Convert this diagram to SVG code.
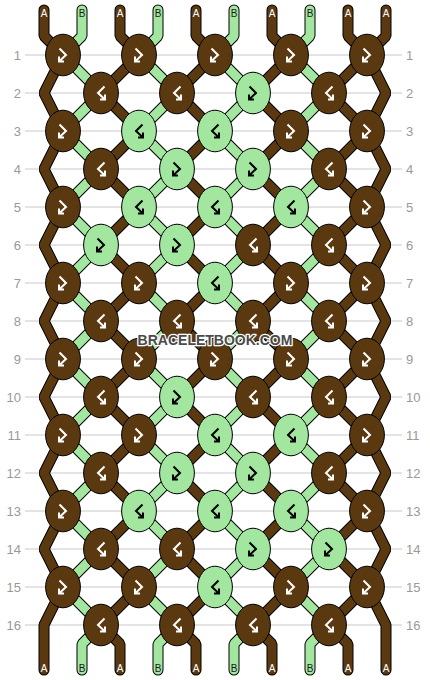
<svg xmlns="http://www.w3.org/2000/svg" xmlns:xlink="http://www.w3.org/1999/xlink" width="430" height="680" viewBox="0 0 430 680">
<style>
.grid line{stroke:#c8c8c8;stroke-width:1}
.num{font-family:"Liberation Sans",Arial,sans-serif;font-size:13px;fill:#999}
.l{text-anchor:end}
.r{text-anchor:start}
.so{fill:none;stroke:#000;stroke-width:11;stroke-linejoin:bevel;stroke-linecap:round}
.sf{fill:none;stroke-width:9;stroke-linejoin:bevel;stroke-linecap:round}
.cA{stroke:#5a3911}
.cB{stroke:#a2e6a0}
.k ellipse{stroke:#000;stroke-width:1}
.a{fill:#5a3911}
.b{fill:#a2e6a0}
.gw{fill:none;stroke:#fff;stroke-width:2}
.gk{fill:none;stroke:#000;stroke-width:2}
.sl{font-family:"Liberation Sans",Arial,sans-serif;font-size:10px;text-anchor:middle}
.sa{fill:#fff}
.sb{fill:#1a1a1a}
.wm{font-family:"Liberation Sans",Arial,sans-serif;font-size:14px;font-weight:bold;fill:#4a4a4a;stroke:#fff;stroke-width:2.5;paint-order:stroke;text-anchor:middle;stroke-linejoin:round}
</style>
<defs>
<path id="fb" d="M-3.5,-6.5 L3,0 L-4,6.5 M-4,1.5 V6.5 H1"/>
<polyline id="s1" points="44,10 44,36 63,55 44,93 63,131 44,169 63,207 44,245 63,283 44,321 63,359 44,397 63,435 44,473 63,511 44,549 63,587 44,625 44,670"/>
<polyline id="s2" points="82,10 82,36 63,55 101,93 63,131 101,169 63,207 101,245 63,283 101,321 63,359 101,397 63,435 101,473 63,511 101,549 63,587 101,625 82,644 82,670"/>
<polyline id="s3" points="120,10 120,36 139,55 101,93 139,131 101,169 139,207 101,245 139,283 101,321 139,359 101,397 139,435 101,473 139,511 101,549 139,587 101,625 120,644 120,670"/>
<polyline id="s4" points="158,10 158,36 139,55 177,93 139,131 177,169 139,207 177,245 139,283 177,321 139,359 177,397 139,435 177,473 139,511 177,549 139,587 177,625 158,644 158,670"/>
<polyline id="s5" points="196,10 196,36 215,55 177,93 215,131 177,169 215,207 177,245 215,283 177,321 215,359 177,397 215,435 177,473 215,511 177,549 215,587 177,625 196,644 196,670"/>
<polyline id="s6" points="234,10 234,36 215,55 253,93 215,131 253,169 215,207 253,245 215,283 253,321 215,359 253,397 215,435 253,473 215,511 253,549 215,587 253,625 234,644 234,670"/>
<polyline id="s7" points="272,10 272,36 291,55 253,93 291,131 253,169 291,207 253,245 291,283 253,321 291,359 253,397 291,435 253,473 291,511 253,549 291,587 253,625 272,644 272,670"/>
<polyline id="s8" points="310,10 310,36 291,55 329,93 291,131 329,169 291,207 329,245 291,283 329,321 291,359 329,397 291,435 329,473 291,511 329,549 291,587 329,625 310,644 310,670"/>
<polyline id="s9" points="348,10 348,36 367,55 329,93 367,131 329,169 367,207 329,245 367,283 329,321 367,359 329,397 367,435 329,473 367,511 329,549 367,587 329,625 348,644 348,670"/>
<polyline id="s10" points="386,10 386,36 367,55 386,93 367,131 386,169 367,207 386,245 367,283 386,321 367,359 386,397 367,435 386,473 367,511 386,549 367,587 386,625 386,670"/>
</defs>
<rect width="430" height="680" fill="#fff"/>
<g class="grid">
<line x1="25" y1="55" x2="402" y2="55"/><line x1="25" y1="93" x2="402" y2="93"/><line x1="25" y1="131" x2="402" y2="131"/><line x1="25" y1="169" x2="402" y2="169"/>
<line x1="25" y1="207" x2="402" y2="207"/><line x1="25" y1="245" x2="402" y2="245"/><line x1="25" y1="283" x2="402" y2="283"/><line x1="25" y1="321" x2="402" y2="321"/>
<line x1="25" y1="359" x2="402" y2="359"/><line x1="25" y1="397" x2="402" y2="397"/><line x1="25" y1="435" x2="402" y2="435"/><line x1="25" y1="473" x2="402" y2="473"/>
<line x1="25" y1="511" x2="402" y2="511"/><line x1="25" y1="549" x2="402" y2="549"/><line x1="25" y1="587" x2="402" y2="587"/><line x1="25" y1="625" x2="402" y2="625"/>
</g>
<g id="row-labels" class="num">
<text class="l" x="21" y="60">1</text><text class="l" x="21" y="98">2</text><text class="l" x="21" y="136">3</text><text class="l" x="21" y="174">4</text>
<text class="l" x="21" y="212">5</text><text class="l" x="21" y="250">6</text><text class="l" x="21" y="288">7</text><text class="l" x="21" y="326">8</text>
<text class="l" x="21" y="364">9</text><text class="l" x="21" y="402">10</text><text class="l" x="21" y="440">11</text><text class="l" x="21" y="478">12</text>
<text class="l" x="21" y="516">13</text><text class="l" x="21" y="554">14</text><text class="l" x="21" y="592">15</text><text class="l" x="21" y="630">16</text>
<text class="r" x="406" y="60">1</text><text class="r" x="406" y="98">2</text><text class="r" x="406" y="136">3</text><text class="r" x="406" y="174">4</text>
<text class="r" x="406" y="212">5</text><text class="r" x="406" y="250">6</text><text class="r" x="406" y="288">7</text><text class="r" x="406" y="326">8</text>
<text class="r" x="406" y="364">9</text><text class="r" x="406" y="402">10</text><text class="r" x="406" y="440">11</text><text class="r" x="406" y="478">12</text>
<text class="r" x="406" y="516">13</text><text class="r" x="406" y="554">14</text><text class="r" x="406" y="592">15</text><text class="r" x="406" y="630">16</text>
</g>
<g id="connectors">
<use xlink:href="#s1" class="so"/><use xlink:href="#s1" class="sf cA"/>
<use xlink:href="#s2" class="so"/><use xlink:href="#s2" class="sf cB"/>
<use xlink:href="#s3" class="so"/><use xlink:href="#s3" class="sf cA"/>
<use xlink:href="#s4" class="so"/><use xlink:href="#s4" class="sf cB"/>
<use xlink:href="#s5" class="so"/><use xlink:href="#s5" class="sf cA"/>
<use xlink:href="#s6" class="so"/><use xlink:href="#s6" class="sf cB"/>
<use xlink:href="#s7" class="so"/><use xlink:href="#s7" class="sf cA"/>
<use xlink:href="#s8" class="so"/><use xlink:href="#s8" class="sf cB"/>
<use xlink:href="#s9" class="so"/><use xlink:href="#s9" class="sf cA"/>
<use xlink:href="#s10" class="so"/><use xlink:href="#s10" class="sf cA"/>
</g>
<g id="string-labels" class="sl">
<text class="sa" x="44" y="17">A</text><text class="sb" x="82" y="17">B</text><text class="sa" x="120" y="17">A</text><text class="sb" x="158" y="17">B</text><text class="sa" x="196" y="17">A</text>
<text class="sb" x="234" y="17">B</text><text class="sa" x="272" y="17">A</text><text class="sb" x="310" y="17">B</text><text class="sa" x="348" y="17">A</text><text class="sa" x="386" y="17">A</text>
<text class="sa" x="44" y="672">A</text><text class="sb" x="82" y="672">B</text><text class="sa" x="120" y="672">A</text><text class="sb" x="158" y="672">B</text><text class="sa" x="196" y="672">A</text>
<text class="sb" x="234" y="672">B</text><text class="sa" x="272" y="672">A</text><text class="sb" x="310" y="672">B</text><text class="sa" x="348" y="672">A</text><text class="sa" x="386" y="672">A</text>
</g>
<g id="knots">
<!-- row 1 -->
<g id="k1-1" class="k"><ellipse class="a" cx="63" cy="55" rx="17.4" ry="20.8"/><use xlink:href="#fb" class="gw" transform="translate(63,55)"/></g>
<g id="k1-2" class="k"><ellipse class="a" cx="139" cy="55" rx="17.4" ry="20.8"/><use xlink:href="#fb" class="gw" transform="translate(139,55)"/></g>
<g id="k1-3" class="k"><ellipse class="a" cx="215" cy="55" rx="17.4" ry="20.8"/><use xlink:href="#fb" class="gw" transform="translate(215,55)"/></g>
<g id="k1-4" class="k"><ellipse class="a" cx="291" cy="55" rx="17.4" ry="20.8"/><use xlink:href="#fb" class="gw" transform="translate(291,55)"/></g>
<g id="k1-5" class="k"><ellipse class="a" cx="367" cy="55" rx="17.4" ry="20.8"/><use xlink:href="#fb" class="gw" transform="translate(367,55)"/></g>
<!-- row 2 -->
<g id="k2-1" class="k"><ellipse class="a" cx="101" cy="93" rx="17.4" ry="20.8"/><use xlink:href="#fb" class="gw" transform="translate(101,93) scale(-1,1)"/></g>
<g id="k2-2" class="k"><ellipse class="a" cx="177" cy="93" rx="17.4" ry="20.8"/><use xlink:href="#fb" class="gw" transform="translate(177,93) scale(-1,1)"/></g>
<g id="k2-3" class="k"><ellipse class="b" cx="253" cy="93" rx="17.4" ry="20.8"/><use xlink:href="#fb" class="gk" transform="translate(253,93)"/></g>
<g id="k2-4" class="k"><ellipse class="a" cx="329" cy="93" rx="17.4" ry="20.8"/><use xlink:href="#fb" class="gw" transform="translate(329,93) scale(-1,1)"/></g>
<!-- row 3 -->
<g id="k3-1" class="k"><ellipse class="a" cx="63" cy="131" rx="17.4" ry="20.8"/><use xlink:href="#fb" class="gw" transform="translate(63,131)"/></g>
<g id="k3-2" class="k"><ellipse class="b" cx="139" cy="131" rx="17.4" ry="20.8"/><use xlink:href="#fb" class="gk" transform="translate(139,131) scale(-1,1)"/></g>
<g id="k3-3" class="k"><ellipse class="b" cx="215" cy="131" rx="17.4" ry="20.8"/><use xlink:href="#fb" class="gk" transform="translate(215,131) scale(-1,1)"/></g>
<g id="k3-4" class="k"><ellipse class="a" cx="291" cy="131" rx="17.4" ry="20.8"/><use xlink:href="#fb" class="gw" transform="translate(291,131)"/></g>
<g id="k3-5" class="k"><ellipse class="a" cx="367" cy="131" rx="17.4" ry="20.8"/><use xlink:href="#fb" class="gw" transform="translate(367,131)"/></g>
<!-- row 4 -->
<g id="k4-1" class="k"><ellipse class="a" cx="101" cy="169" rx="17.4" ry="20.8"/><use xlink:href="#fb" class="gw" transform="translate(101,169) scale(-1,1)"/></g>
<g id="k4-2" class="k"><ellipse class="b" cx="177" cy="169" rx="17.4" ry="20.8"/><use xlink:href="#fb" class="gk" transform="translate(177,169)"/></g>
<g id="k4-3" class="k"><ellipse class="b" cx="253" cy="169" rx="17.4" ry="20.8"/><use xlink:href="#fb" class="gk" transform="translate(253,169)"/></g>
<g id="k4-4" class="k"><ellipse class="a" cx="329" cy="169" rx="17.4" ry="20.8"/><use xlink:href="#fb" class="gw" transform="translate(329,169) scale(-1,1)"/></g>
<!-- row 5 -->
<g id="k5-1" class="k"><ellipse class="a" cx="63" cy="207" rx="17.4" ry="20.8"/><use xlink:href="#fb" class="gw" transform="translate(63,207)"/></g>
<g id="k5-2" class="k"><ellipse class="b" cx="139" cy="207" rx="17.4" ry="20.8"/><use xlink:href="#fb" class="gk" transform="translate(139,207) scale(-1,1)"/></g>
<g id="k5-3" class="k"><ellipse class="b" cx="215" cy="207" rx="17.4" ry="20.8"/><use xlink:href="#fb" class="gk" transform="translate(215,207) scale(-1,1)"/></g>
<g id="k5-4" class="k"><ellipse class="b" cx="291" cy="207" rx="17.4" ry="20.8"/><use xlink:href="#fb" class="gk" transform="translate(291,207) scale(-1,1)"/></g>
<g id="k5-5" class="k"><ellipse class="a" cx="367" cy="207" rx="17.4" ry="20.8"/><use xlink:href="#fb" class="gw" transform="translate(367,207)"/></g>
<!-- row 6 -->
<g id="k6-1" class="k"><ellipse class="b" cx="101" cy="245" rx="17.4" ry="20.8"/><use xlink:href="#fb" class="gk" transform="translate(101,245)"/></g>
<g id="k6-2" class="k"><ellipse class="b" cx="177" cy="245" rx="17.4" ry="20.8"/><use xlink:href="#fb" class="gk" transform="translate(177,245)"/></g>
<g id="k6-3" class="k"><ellipse class="a" cx="253" cy="245" rx="17.4" ry="20.8"/><use xlink:href="#fb" class="gw" transform="translate(253,245) scale(-1,1)"/></g>
<g id="k6-4" class="k"><ellipse class="a" cx="329" cy="245" rx="17.4" ry="20.8"/><use xlink:href="#fb" class="gw" transform="translate(329,245) scale(-1,1)"/></g>
<!-- row 7 -->
<g id="k7-1" class="k"><ellipse class="a" cx="63" cy="283" rx="17.4" ry="20.8"/><use xlink:href="#fb" class="gw" transform="translate(63,283)"/></g>
<g id="k7-2" class="k"><ellipse class="a" cx="139" cy="283" rx="17.4" ry="20.8"/><use xlink:href="#fb" class="gw" transform="translate(139,283)"/></g>
<g id="k7-3" class="k"><ellipse class="b" cx="215" cy="283" rx="17.4" ry="20.8"/><use xlink:href="#fb" class="gk" transform="translate(215,283) scale(-1,1)"/></g>
<g id="k7-4" class="k"><ellipse class="a" cx="291" cy="283" rx="17.4" ry="20.8"/><use xlink:href="#fb" class="gw" transform="translate(291,283)"/></g>
<g id="k7-5" class="k"><ellipse class="a" cx="367" cy="283" rx="17.4" ry="20.8"/><use xlink:href="#fb" class="gw" transform="translate(367,283)"/></g>
<!-- row 8 -->
<g id="k8-1" class="k"><ellipse class="a" cx="101" cy="321" rx="17.4" ry="20.8"/><use xlink:href="#fb" class="gw" transform="translate(101,321) scale(-1,1)"/></g>
<g id="k8-2" class="k"><ellipse class="a" cx="177" cy="321" rx="17.4" ry="20.8"/><use xlink:href="#fb" class="gw" transform="translate(177,321) scale(-1,1)"/></g>
<g id="k8-3" class="k"><ellipse class="a" cx="253" cy="321" rx="17.4" ry="20.8"/><use xlink:href="#fb" class="gw" transform="translate(253,321) scale(-1,1)"/></g>
<g id="k8-4" class="k"><ellipse class="a" cx="329" cy="321" rx="17.4" ry="20.8"/><use xlink:href="#fb" class="gw" transform="translate(329,321) scale(-1,1)"/></g>
<!-- row 9 -->
<g id="k9-1" class="k"><ellipse class="a" cx="63" cy="359" rx="17.4" ry="20.8"/><use xlink:href="#fb" class="gw" transform="translate(63,359)"/></g>
<g id="k9-2" class="k"><ellipse class="a" cx="139" cy="359" rx="17.4" ry="20.8"/><use xlink:href="#fb" class="gw" transform="translate(139,359)"/></g>
<g id="k9-3" class="k"><ellipse class="a" cx="215" cy="359" rx="17.4" ry="20.8"/><use xlink:href="#fb" class="gw" transform="translate(215,359)"/></g>
<g id="k9-4" class="k"><ellipse class="a" cx="291" cy="359" rx="17.4" ry="20.8"/><use xlink:href="#fb" class="gw" transform="translate(291,359)"/></g>
<g id="k9-5" class="k"><ellipse class="a" cx="367" cy="359" rx="17.4" ry="20.8"/><use xlink:href="#fb" class="gw" transform="translate(367,359)"/></g>
<!-- row 10 -->
<g id="k10-1" class="k"><ellipse class="a" cx="101" cy="397" rx="17.4" ry="20.8"/><use xlink:href="#fb" class="gw" transform="translate(101,397) scale(-1,1)"/></g>
<g id="k10-2" class="k"><ellipse class="b" cx="177" cy="397" rx="17.4" ry="20.8"/><use xlink:href="#fb" class="gk" transform="translate(177,397)"/></g>
<g id="k10-3" class="k"><ellipse class="a" cx="253" cy="397" rx="17.4" ry="20.8"/><use xlink:href="#fb" class="gw" transform="translate(253,397) scale(-1,1)"/></g>
<g id="k10-4" class="k"><ellipse class="a" cx="329" cy="397" rx="17.4" ry="20.8"/><use xlink:href="#fb" class="gw" transform="translate(329,397) scale(-1,1)"/></g>
<!-- row 11 -->
<g id="k11-1" class="k"><ellipse class="a" cx="63" cy="435" rx="17.4" ry="20.8"/><use xlink:href="#fb" class="gw" transform="translate(63,435)"/></g>
<g id="k11-2" class="k"><ellipse class="a" cx="139" cy="435" rx="17.4" ry="20.8"/><use xlink:href="#fb" class="gw" transform="translate(139,435)"/></g>
<g id="k11-3" class="k"><ellipse class="b" cx="215" cy="435" rx="17.4" ry="20.8"/><use xlink:href="#fb" class="gk" transform="translate(215,435) scale(-1,1)"/></g>
<g id="k11-4" class="k"><ellipse class="b" cx="291" cy="435" rx="17.4" ry="20.8"/><use xlink:href="#fb" class="gk" transform="translate(291,435) scale(-1,1)"/></g>
<g id="k11-5" class="k"><ellipse class="a" cx="367" cy="435" rx="17.4" ry="20.8"/><use xlink:href="#fb" class="gw" transform="translate(367,435)"/></g>
<!-- row 12 -->
<g id="k12-1" class="k"><ellipse class="a" cx="101" cy="473" rx="17.4" ry="20.8"/><use xlink:href="#fb" class="gw" transform="translate(101,473) scale(-1,1)"/></g>
<g id="k12-2" class="k"><ellipse class="b" cx="177" cy="473" rx="17.4" ry="20.8"/><use xlink:href="#fb" class="gk" transform="translate(177,473)"/></g>
<g id="k12-3" class="k"><ellipse class="b" cx="253" cy="473" rx="17.4" ry="20.8"/><use xlink:href="#fb" class="gk" transform="translate(253,473)"/></g>
<g id="k12-4" class="k"><ellipse class="a" cx="329" cy="473" rx="17.4" ry="20.8"/><use xlink:href="#fb" class="gw" transform="translate(329,473) scale(-1,1)"/></g>
<!-- row 13 -->
<g id="k13-1" class="k"><ellipse class="a" cx="63" cy="511" rx="17.4" ry="20.8"/><use xlink:href="#fb" class="gw" transform="translate(63,511)"/></g>
<g id="k13-2" class="k"><ellipse class="b" cx="139" cy="511" rx="17.4" ry="20.8"/><use xlink:href="#fb" class="gk" transform="translate(139,511) scale(-1,1)"/></g>
<g id="k13-3" class="k"><ellipse class="b" cx="215" cy="511" rx="17.4" ry="20.8"/><use xlink:href="#fb" class="gk" transform="translate(215,511) scale(-1,1)"/></g>
<g id="k13-4" class="k"><ellipse class="b" cx="291" cy="511" rx="17.4" ry="20.8"/><use xlink:href="#fb" class="gk" transform="translate(291,511) scale(-1,1)"/></g>
<g id="k13-5" class="k"><ellipse class="a" cx="367" cy="511" rx="17.4" ry="20.8"/><use xlink:href="#fb" class="gw" transform="translate(367,511)"/></g>
<!-- row 14 -->
<g id="k14-1" class="k"><ellipse class="a" cx="101" cy="549" rx="17.4" ry="20.8"/><use xlink:href="#fb" class="gw" transform="translate(101,549) scale(-1,1)"/></g>
<g id="k14-2" class="k"><ellipse class="a" cx="177" cy="549" rx="17.4" ry="20.8"/><use xlink:href="#fb" class="gw" transform="translate(177,549) scale(-1,1)"/></g>
<g id="k14-3" class="k"><ellipse class="b" cx="253" cy="549" rx="17.4" ry="20.8"/><use xlink:href="#fb" class="gk" transform="translate(253,549)"/></g>
<g id="k14-4" class="k"><ellipse class="b" cx="329" cy="549" rx="17.4" ry="20.8"/><use xlink:href="#fb" class="gk" transform="translate(329,549)"/></g>
<!-- row 15 -->
<g id="k15-1" class="k"><ellipse class="a" cx="63" cy="587" rx="17.4" ry="20.8"/><use xlink:href="#fb" class="gw" transform="translate(63,587)"/></g>
<g id="k15-2" class="k"><ellipse class="a" cx="139" cy="587" rx="17.4" ry="20.8"/><use xlink:href="#fb" class="gw" transform="translate(139,587)"/></g>
<g id="k15-3" class="k"><ellipse class="b" cx="215" cy="587" rx="17.4" ry="20.8"/><use xlink:href="#fb" class="gk" transform="translate(215,587) scale(-1,1)"/></g>
<g id="k15-4" class="k"><ellipse class="a" cx="291" cy="587" rx="17.4" ry="20.8"/><use xlink:href="#fb" class="gw" transform="translate(291,587)"/></g>
<g id="k15-5" class="k"><ellipse class="a" cx="367" cy="587" rx="17.4" ry="20.8"/><use xlink:href="#fb" class="gw" transform="translate(367,587)"/></g>
<!-- row 16 -->
<g id="k16-1" class="k"><ellipse class="a" cx="101" cy="625" rx="17.4" ry="20.8"/><use xlink:href="#fb" class="gw" transform="translate(101,625) scale(-1,1)"/></g>
<g id="k16-2" class="k"><ellipse class="a" cx="177" cy="625" rx="17.4" ry="20.8"/><use xlink:href="#fb" class="gw" transform="translate(177,625) scale(-1,1)"/></g>
<g id="k16-3" class="k"><ellipse class="a" cx="253" cy="625" rx="17.4" ry="20.8"/><use xlink:href="#fb" class="gw" transform="translate(253,625) scale(-1,1)"/></g>
<g id="k16-4" class="k"><ellipse class="a" cx="329" cy="625" rx="17.4" ry="20.8"/><use xlink:href="#fb" class="gw" transform="translate(329,625) scale(-1,1)"/></g>
</g>
<text id="watermark" class="wm" x="215" y="345">BRACELETBOOK.COM</text>
</svg>
